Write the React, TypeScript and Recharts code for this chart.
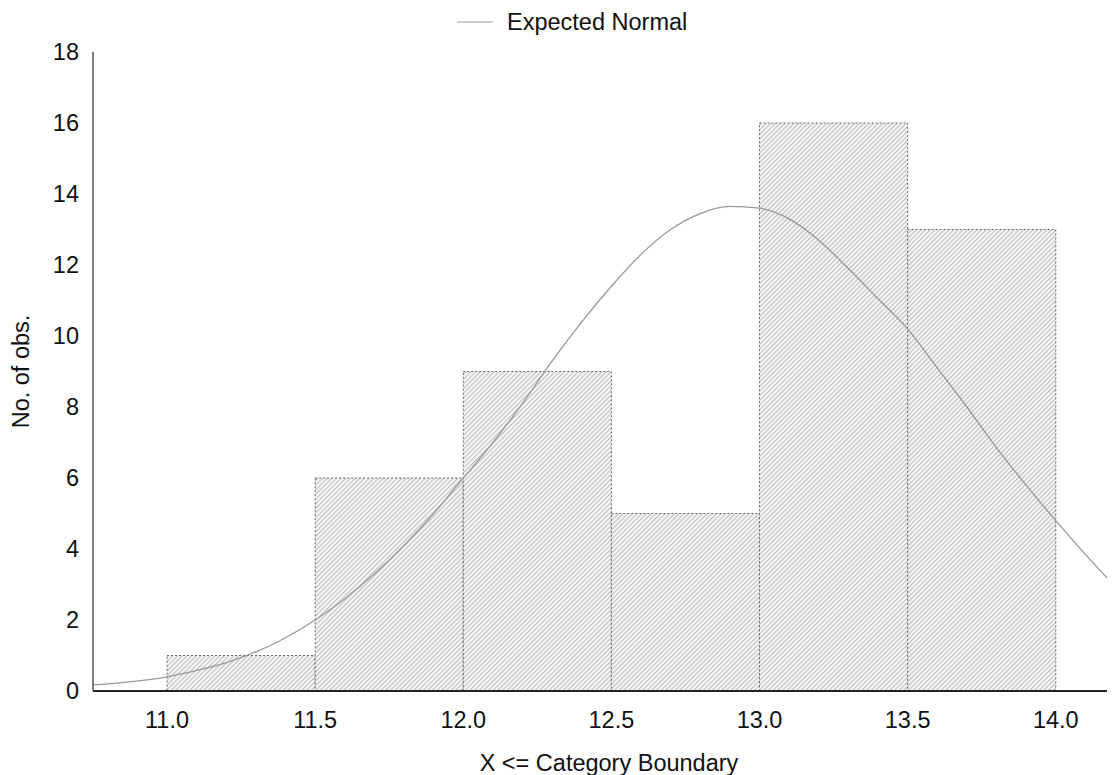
import React from 'react';
import { ComposedChart, Line, XAxis, YAxis, ReferenceArea, Legend } from 'recharts';

const binStarts = [11.0, 11.5, 12.0, 12.5, 13.0, 13.5];
const binEnds = [11.5, 12.0, 12.5, 13.0, 13.5, 14.0];
const binCounts = [1, 6, 9, 5, 16, 13];

const curveX = [10.75, 11.0, 11.1, 11.2, 11.3, 11.4, 11.5, 11.6, 11.7, 11.8, 11.9, 12.0, 12.1, 12.2, 12.3, 12.4, 12.5, 12.6, 12.7, 12.8, 12.9, 13.0, 13.1, 13.2, 13.3, 13.4, 13.5, 13.6, 13.7, 13.8, 13.9, 14.0, 14.1, 14.2];
const curveY = [0.17, 0.4, 0.58, 0.8, 1.1, 1.5, 2.0, 2.6, 3.3, 4.1, 5.0, 6.0, 7.0, 8.1, 9.3, 10.4, 11.4, 12.3, 13.0, 13.45, 13.65, 13.6, 13.3, 12.7, 11.9, 11.05, 10.2, 9.1, 8.0, 6.85, 5.8, 4.8, 3.85, 2.95];

const xTicks = [11.0, 11.5, 12.0, 12.5, 13.0, 13.5, 14.0];
const yTicks = [0, 2, 4, 6, 8, 10, 12, 14, 16, 18];

const curveData = curveX.map((x, i) => ({ x, y: curveY[i] }));

const FONT = '"Liberation Sans", Arial, sans-serif';
const TEXT = '#111111';
const FS = 23.5;

const renderLegend = () => (
  <div style={{ display: 'flex', alignItems: 'center', fontFamily: FONT, fontSize: FS, color: TEXT, height: 26, lineHeight: '26px' }}>
    <svg width={36} height={4} style={{ display: 'block' }}>
      <line x1={0} y1={2} x2={36} y2={2} stroke="#a0a0a0" strokeWidth={1.2} />
    </svg>
    <span style={{ marginLeft: 14 }}>Expected Normal</span>
  </div>
);

export default function App() {
  return (
    <ComposedChart
      width={1107}
      height={767}
      data={curveData}
      margin={{ top: 44, right: 0, bottom: 0, left: 0 }}
      style={{ fontFamily: FONT }}
    >
      <defs>
        <pattern id="hatch" patternUnits="userSpaceOnUse" width={3.3} height={10} patternTransform="rotate(45)">
          <rect x={0} y={0} width={3.3} height={10} fill="#f7f7f7" />
          <line x1={0.5} y1={0} x2={0.5} y2={10} stroke="#b8b8b8" strokeWidth={1} />
        </pattern>
      </defs>
      <Legend
        layout="horizontal"
        verticalAlign="middle"
        align="center"
        content={renderLegend}
        wrapperStyle={{ top: 1, left: 449, width: 320 }}
      />
      <XAxis
        dataKey="x"
        type="number"
        domain={[10.75, 14.2]}
        ticks={xTicks}
        allowDataOverflow
        tickFormatter={(v: number) => v.toFixed(1)}
        height={84}
        tickSize={0}
        tickMargin={20}
        stroke="#222"
        strokeWidth={2}
        tick={{ fill: TEXT, fontSize: FS, fontFamily: FONT }}
        label={{ value: 'X <= Category Boundary', position: 'insideBottom', offset: 4, dx: 5, fill: TEXT, fontSize: FS, fontFamily: FONT }}
      />
      <YAxis
        type="number"
        domain={[0, 18]}
        ticks={yTicks}
        width={85}
        tickSize={0}
        tickMargin={14}
        stroke="#555"
        strokeWidth={1.5}
        tick={{ fill: TEXT, fontSize: FS, fontFamily: FONT }}
        label={{ value: 'No. of obs.', angle: -90, position: 'insideLeft', offset: 13, textAnchor: 'middle', fill: TEXT, fontSize: FS, fontFamily: FONT }}
      />
      {binCounts.map((c, i) => (
        <ReferenceArea
          key={i}
          x1={binStarts[i]}
          x2={binEnds[i]}
          y1={0}
          y2={c}
          fill="url(#hatch)"
          fillOpacity={1}
          stroke="#666"
          strokeWidth={1}
          strokeDasharray="2 2"
        />
      ))}
      <Line
        type="monotone"
        dataKey="y"
        stroke="#999"
        strokeWidth={1.3}
        dot={false}
        activeDot={false}
        isAnimationActive={false}
        legendType="line"
        name="Expected Normal"
      />
    </ComposedChart>
  );
}
